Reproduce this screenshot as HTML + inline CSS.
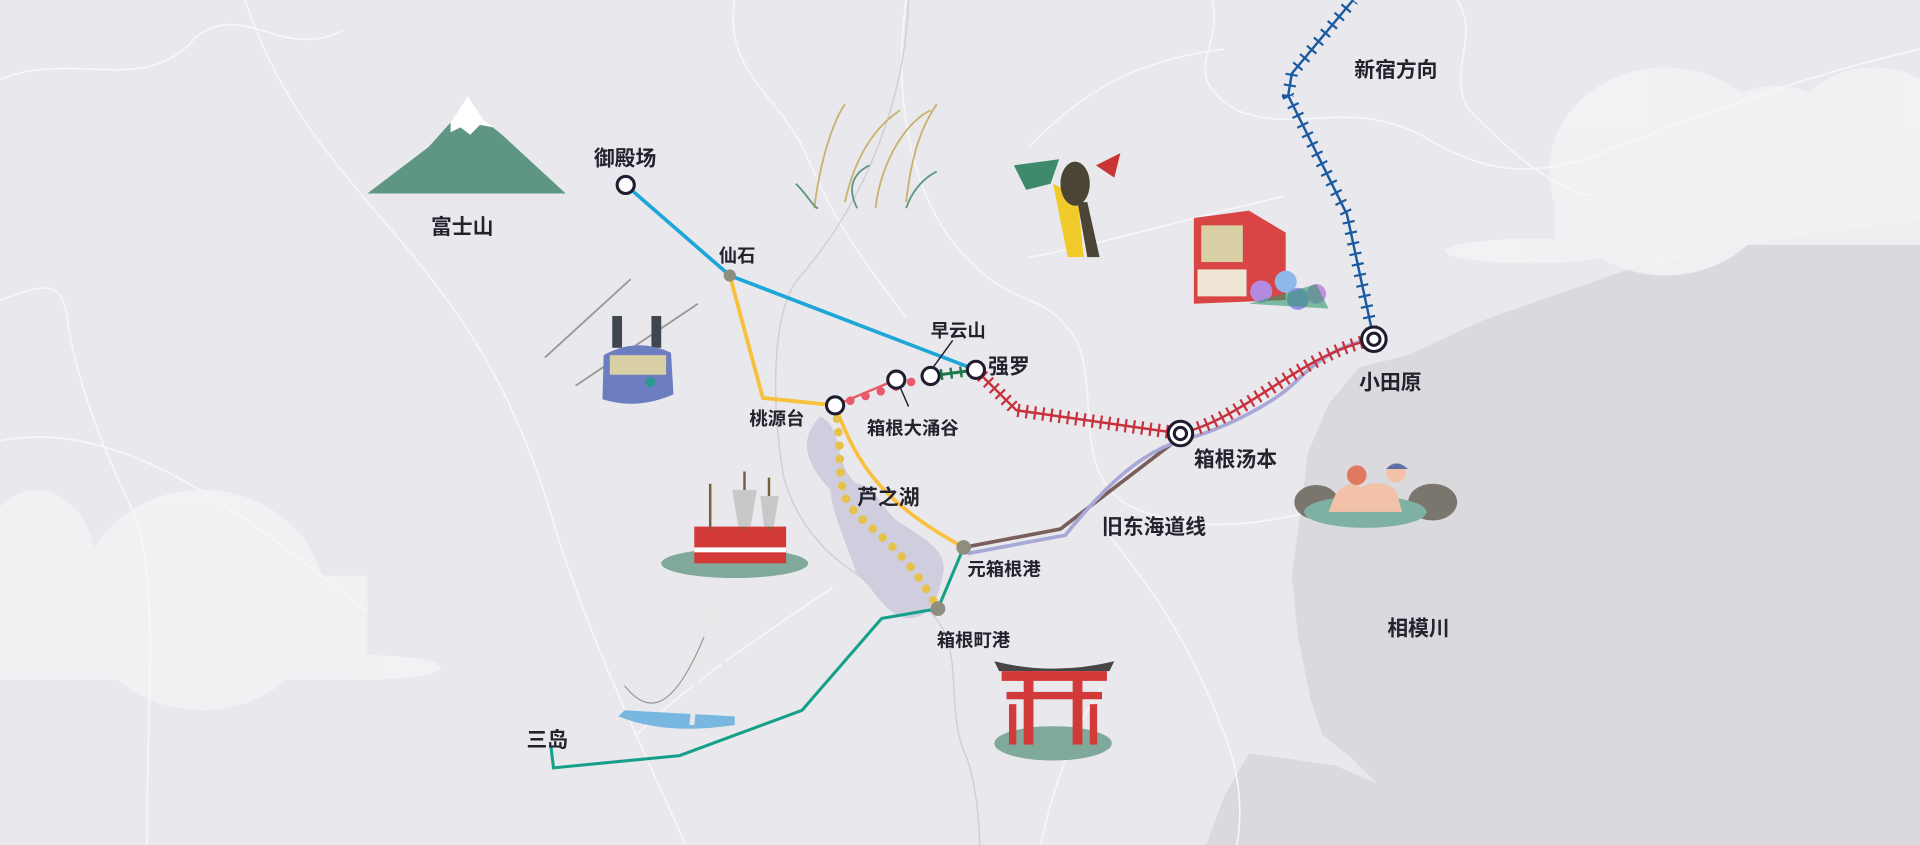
<!DOCTYPE html>
<html><head><meta charset="utf-8"><style>
html,body{margin:0;padding:0;width:1920px;height:845px;overflow:hidden;background:#e9e9ed}
svg{display:block}
text{font-family:"Liberation Sans","Noto Sans CJK SC",sans-serif;fill:#23232e;font-weight:bold}
</style></head><body>
<svg width="1920" height="845" viewBox="0 0 1568 690" preserveAspectRatio="none" xmlns="http://www.w3.org/2000/svg">
<rect width="1568" height="690" fill="#e9e9ed"/>
<!-- sea -->
<path d="M1568,180 L1450,195 L1330,220 L1210,262 L1150,290 L1110,300 L1085,330 L1068,370 L1062,420 L1055,470 L1060,520 L1070,570 L1080,600 L1105,620 L1125,640 L1090,625 L1020,615 L1000,650 L985,690 L1568,690 Z" fill="#d9d9de"/>
<!-- clouds -->
<g fill="#f3f3f6" opacity="0.85">
<ellipse cx="1360" cy="140" rx="95" ry="85"/><ellipse cx="1450" cy="120" rx="60" ry="50"/><ellipse cx="1530" cy="115" rx="70" ry="60"/>
<rect x="1270" y="120" width="298" height="80"/>
<ellipse cx="1250" cy="205" rx="70" ry="10"/>
<ellipse cx="30" cy="470" rx="50" ry="70"/><ellipse cx="165" cy="490" rx="100" ry="90"/><ellipse cx="255" cy="510" rx="45" ry="40"/>
<rect x="0" y="470" width="300" height="85"/><ellipse cx="300" cy="545" rx="60" ry="10"/>
</g>
<!-- roads -->
<g fill="none" stroke="#f7f7f9" stroke-width="1.3">
<path d="M0,65 C60,40 120,80 160,30 C200,0 230,50 280,25"/>
<path d="M0,245 C40,230 50,230 55,260 C60,300 80,360 110,420 C130,480 120,560 120,690"/>
<path d="M200,0 C230,90 280,140 330,200 C380,260 420,320 450,420 C480,520 520,600 560,690"/>
<path d="M600,0 C590,60 640,80 660,130 C690,200 720,230 740,260"/>
<path d="M740,0 C730,70 740,150 780,200 C830,260 850,230 880,280 C900,330 870,400 940,420 C1000,440 1070,420 1130,400"/>
<path d="M990,0 C1000,40 960,60 1010,90 C1060,110 1100,80 1160,110 C1210,140 1250,150 1320,120 C1400,90 1480,60 1568,40"/>
<path d="M840,210 C900,200 960,180 1050,160"/>
<path d="M840,120 C880,80 920,50 1000,40"/>
<path d="M0,360 C100,340 200,420 300,500"/>
<path d="M900,430 C940,480 970,520 1000,600 C1020,650 1010,690 1010,690"/>
<path d="M520,600 C560,560 620,520 680,480"/>
<path d="M850,690 C860,640 880,590 900,560"/>
<path d="M1190,0 C1210,30 1180,60 1200,90 C1230,120 1260,150 1300,160"/>
</g>
<g fill="none" stroke="#cfcfd4" stroke-width="1.2">
<path d="M742,0 C740,60 720,150 650,230 C630,260 630,330 640,390 C660,460 720,480 760,500 C790,530 770,580 790,620 C800,650 800,690 800,690"/>
</g>
<!-- lake -->
<path d="M670,340 C690,350 680,380 700,395 C720,400 720,420 740,430 C755,440 775,450 770,470 C765,490 760,505 740,505 C720,500 715,480 700,470 C690,440 680,420 678,400 C660,380 650,360 670,340Z" fill="#cfcdde"/>
<!-- mountain -->
<path d="M300,158 L350,120 L368,100 L382,78 L395,98 L410,110 L462,158 Z" fill="#5f9683"/>
<path d="M368,100 L382,78 L395,98 L403,104 L392,102 L384,110 L376,104 L368,108Z" fill="#fff"/>
<!-- cable car -->
<line x1="445" y1="292" x2="515" y2="228" stroke="#999" stroke-width="1.5"/>
<line x1="470" y1="315" x2="570" y2="248" stroke="#999" stroke-width="1.5"/>
<rect x="500" y="258" width="8" height="26" fill="#3f4650"/><rect x="532" y="258" width="8" height="26" fill="#3f4650"/>
<path d="M493,290 Q520,275 548,288 L550,322 Q520,335 492,326 Z" fill="#6c7ec0"/>
<rect x="498" y="290" width="46" height="16" fill="#d8cfa4"/>
<circle cx="531" cy="312" r="4" fill="#2a9a8f"/>
<!-- grass -->
<g stroke="#c9b26e" stroke-width="1.5" fill="none">
<path d="M665,170 C670,130 680,100 690,85"/><path d="M690,165 C700,120 720,100 735,90"/><path d="M715,170 C720,130 740,100 760,90"/><path d="M740,165 C745,120 755,100 765,85"/>
</g>
<g stroke="#5f9683" stroke-width="1.5" fill="none"><path d="M650,150 C660,160 665,170 668,170"/><path d="M700,170 C690,150 700,140 710,135"/><path d="M740,170 C745,155 755,145 765,140"/></g>
<!-- monument -->
<path d="M828,135 L865,130 L858,150 L838,155Z" fill="#3f8a6c"/>
<path d="M895,135 L915,125 L910,145Z" fill="#c93434"/>
<path d="M860,150 L872,210 L885,210 L880,160Z" fill="#f1cb2b"/>
<ellipse cx="878" cy="150" rx="12" ry="18" fill="#4a4535"/>
<path d="M880,165 L888,210 L898,210 L888,165Z" fill="#4a4535"/>
<!-- train -->
<path d="M975,178 L1020,172 L1050,190 L1050,245 L975,248Z" fill="#d94545"/>
<rect x="981" y="184" width="34" height="30" fill="#d8cfa4"/>
<rect x="978" y="220" width="40" height="22" fill="#efe6d6"/>
<g><circle cx="1030" cy="238" r="9" fill="#b48ae0"/><circle cx="1050" cy="230" r="9" fill="#8fb8e8"/><circle cx="1060" cy="244" r="9" fill="#9a8ee8"/><circle cx="1075" cy="240" r="8" fill="#c68ee0"/><path d="M1020,248 L1085,252 L1075,232Z" fill="#2f9a6c" opacity=".6"/></g>
<!-- ship -->
<ellipse cx="600" cy="460" rx="60" ry="12" fill="#7fa99a"/>
<rect x="567" y="430" width="75" height="30" fill="#d23a3a"/>
<rect x="567" y="447" width="75" height="4" fill="#fff"/>
<g stroke="#7a5e3c" stroke-width="2"><line x1="580" y1="395" x2="580" y2="432"/><line x1="608" y1="385" x2="608" y2="432"/><line x1="628" y1="390" x2="628" y2="432"/></g>
<g fill="#c8c8c8"><path d="M598,400 L618,400 L613,430 L603,430Z"/><path d="M621,405 L636,405 L632,430 L624,430Z"/></g>
<!-- bridge -->
<path d="M505,585 C530,595 560,598 600,592 L600,585 L510,580Z" fill="#78b8e0"/>
<path d="M575,495 L565,592 M578,495 L605,590" stroke="#e8e8e8" stroke-width="4" fill="none"/>
<path d="M510,560 C530,585 550,580 575,520" stroke="#999" stroke-width="1" fill="none"/>
<!-- torii -->
<ellipse cx="860" cy="607" rx="48" ry="14" fill="#7fa99a"/>
<path d="M812,540 Q860,552 910,540 L906,548 L816,548Z" fill="#4a4545"/>
<rect x="818" y="548" width="86" height="8" fill="#d23a3a"/>
<rect x="822" y="565" width="78" height="6" fill="#d23a3a"/>
<rect x="836" y="548" width="8" height="60" fill="#d23a3a"/><rect x="876" y="548" width="8" height="60" fill="#d23a3a"/>
<rect x="824" y="575" width="6" height="33" fill="#d23a3a"/><rect x="890" y="575" width="6" height="33" fill="#d23a3a"/>
<!-- onsen -->
<ellipse cx="1075" cy="410" rx="18" ry="14" fill="#7a756d"/><ellipse cx="1170" cy="410" rx="20" ry="15" fill="#7a756d"/>
<ellipse cx="1115" cy="418" rx="50" ry="13" fill="#7fb0a4"/>
<path d="M1090,405 Q1100,390 1112,398 Q1125,390 1140,400 L1145,418 L1085,418Z" fill="#f2c2a8"/>
<circle cx="1108" cy="388" r="8" fill="#e07a5f"/><circle cx="1140" cy="386" r="8" fill="#f2c2a8"/><path d="M1132,383 Q1140,374 1150,383Z" fill="#5b6fa8"/>
<!-- lines -->
<polyline points="511,151 596,225 797,302" fill="none" stroke="#1ea6d9" stroke-width="3"/>
<polyline points="596,225 623,325 682,331 C700,370 710,400 740,420 L787,447" fill="none" stroke="#f8c03c" stroke-width="3"/>
<path d="M596,225 L623,325 L682,331" fill="none" stroke="#f8c03c" stroke-width="3"/>
<path d="M682,331 C700,380 720,410 787,447" fill="none" stroke="#f8c03c" stroke-width="3"/>
<path d="M682,331 C690,380 680,400 700,420 C720,440 740,450 766,497" fill="none" stroke="#e6c24a" stroke-width="7" stroke-dasharray="0 11" stroke-linecap="round"/>
<path d="M682,331 L732,310" fill="none" stroke="#e85a6a" stroke-width="2"/>
<path d="M682,331 L760,307" fill="none" stroke="#e85a6a" stroke-width="7" stroke-dasharray="0 13" stroke-linecap="round"/>
<path d="M760,307 L797,302" stroke="#1f7a4a" stroke-width="2.5"/>
<path d="M760,307 L797,302" stroke="#1f7a4a" stroke-width="9" stroke-dasharray="2 6"/>
<path d="M787,447 L866,432 L960,360" fill="none" stroke="#7a5e5c" stroke-width="3"/>
<path d="M790,452 L870,437 C900,400 930,370 964,360 C1000,350 1040,330 1060,310 C1080,290 1100,280 1122,277" fill="none" stroke="#a8a8d8" stroke-width="3"/>
<polyline points="787,447 766,497 720,505 655,580 555,617 452,627 450,610" fill="none" stroke="#16a08a" stroke-width="2.5"/>
<g id="red">
<path d="M797,302 L830,335 L964,354 C1020,340 1060,290 1122,277" fill="none" stroke="#c8323c" stroke-width="2"/>
<path d="M797,302 L830,335 L964,354 C1020,340 1060,290 1122,277" fill="none" stroke="#c8323c" stroke-width="11" stroke-dasharray="1.8 5"/>
</g>
<path d="M1122,277 L1100,175 L1052,78 L1055,60 L1105,0" fill="none" stroke="#1b5aa0" stroke-width="2"/>
<path d="M1122,277 L1100,175 L1052,78 L1055,60 L1105,0" fill="none" stroke="#1b5aa0" stroke-width="10" stroke-dasharray="1.8 7"/>
<!-- stations -->
<g fill="#fff" stroke="#1e1e30" stroke-width="2.5">
<circle cx="511" cy="151" r="7"/><circle cx="682" cy="331" r="7"/><circle cx="732" cy="310" r="7"/><circle cx="760" cy="307" r="7"/><circle cx="797" cy="302" r="7"/>
<circle cx="964" cy="354" r="10"/><circle cx="1122" cy="277" r="10"/>
</g>
<g fill="none" stroke="#1e1e30" stroke-width="2.5"><circle cx="964" cy="354" r="5"/><circle cx="1122" cy="277" r="5"/></g>
<g fill="#8f8c80"><circle cx="596" cy="225" r="5"/><circle cx="787" cy="447" r="6"/><circle cx="766" cy="497" r="6"/></g>
<line x1="735" y1="316" x2="742" y2="332" stroke="#1e1e30" stroke-width="1.2"/>
<line x1="762" y1="300" x2="778" y2="278" stroke="#1e1e30" stroke-width="1.2"/>
<!-- labels -->
<g font-size="17">
<text x="485" y="135">御殿场</text>
<text x="352" y="191">富士山</text>
<text x="587" y="214" font-size="15">仙石</text>
<text x="760" y="275" font-size="15">早云山</text>
<text x="807" y="305">强罗</text>
<text x="612" y="347" font-size="15">桃源台</text>
<text x="708" y="355" font-size="15">箱根大涌谷</text>
<text x="700" y="412">芦之湖</text>
<text x="975" y="381">箱根汤本</text>
<text x="1110" y="318">小田原</text>
<text x="1106" y="63">新宿方向</text>
<text x="900" y="436">旧东海道线</text>
<text x="790" y="470" font-size="15">元箱根港</text>
<text x="765" y="528" font-size="15">箱根町港</text>
<text x="1133" y="519">相模川</text>
<text x="430" y="610">三岛</text>
</g>
</svg>
</body></html>
